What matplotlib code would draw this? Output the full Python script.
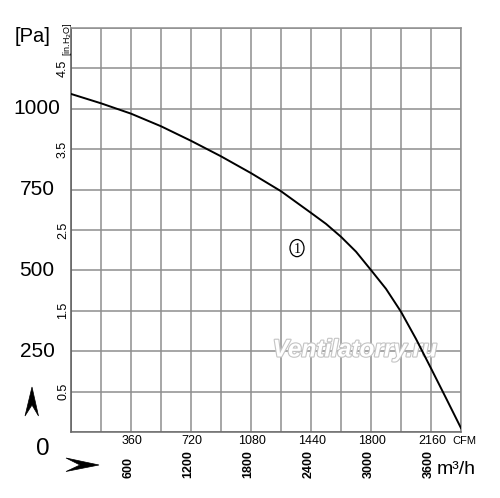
import matplotlib
matplotlib.use('Agg')
import matplotlib.pyplot as plt
import matplotlib.patheffects as pe
from matplotlib.patches import Polygon, Ellipse

# curve: airflow [CFM] vs static pressure [Pa]
cfm = [0, 180, 360, 540, 720, 900, 1080, 1260, 1440, 1530, 1620, 1710, 1800,
       1890, 1980, 2070, 2160, 2250, 2340]
pa = [1046, 1017, 985, 946, 901, 853, 801, 745, 678, 644, 604, 558, 501,
      443, 372, 288, 197, 105, 12]

cfm_labels = [360, 720, 1080, 1440, 1800, 2160]
m3h_labels = [600, 1200, 1800, 2400, 3000, 3600]
pa_labels = [250, 500, 750, 1000]
inch_labels = ['0.5', '1.5', '2.5', '3.5', '4.5']
inch_pos = [125, 375, 625, 875, 1125]

FONT = ['Liberation Sans', 'DejaVu Sans']
W, H = 500, 498


def fpx(x, y):
    # pixel position -> figure fraction
    return x / W, 1 - y / H


fig = plt.figure(figsize=(W / 100, H / 100), dpi=100)
ax = fig.add_axes([71 / W, 66 / H, 390 / W, 404 / H])

ax.set_xlim(0, 2340)
ax.set_ylim(0, 1250)
ax.set_xticks(range(0, 2341, 180))
ax.set_yticks(range(0, 1251, 125))
ax.tick_params(length=0, labelbottom=False, labelleft=False)
ax.grid(True, color='#8e8e8e', lw=1.1)
for s in ax.spines.values():
    s.set_color('#8e8e8e')
    s.set_linewidth(1.1)
ax.spines['left'].set_color('#5a5a5a')
ax.spines['bottom'].set_color('#6a6a6a')

ax.plot(cfm, pa, color='black', lw=1.4, zorder=3)

# curve number
ax.add_patch(Ellipse((1356, 569), 84, 53, fill=False, ec='black', lw=0.9, zorder=3))
ax.text(1356, 566, '1', ha='center', va='center', fontsize=10,
        family=['Liberation Serif', 'DejaVu Serif'], zorder=3)

# watermark
ax.text(0.728, 0.203, 'Ventilatorry.ru', transform=ax.transAxes, ha='center', va='center',
        fontsize=17.5, style='italic', weight='bold', family=FONT, color='white',
        zorder=2, path_effects=[pe.Stroke(linewidth=1.6, foreground='#c4c4c4'), pe.Normal()])

# y labels, Pa and in.H2O
ytr = ax.get_yaxis_transform()
for v in pa_labels:
    ax.text(-0.087, v, str(v), transform=ytr, ha='center', va='center',
            fontsize=15, family=FONT)
for lab, v in zip(inch_labels, inch_pos):
    ax.text(-0.0205, v, lab, transform=ytr, ha='center', va='center', rotation=90,
            fontsize=9, family=FONT)

x, y = fpx(33, 37)
fig.text(x, y, '[Pa]', ha='center', va='center', fontsize=14.5, family=FONT)
x, y = fpx(67, 39)
fig.text(x, y, '[in.H$_2$O]', ha='center', va='center', rotation=90, fontsize=6.5, family=FONT)
x, y = fpx(42.5, 449)
fig.text(x, y, '0', ha='center', va='center', fontsize=17.5, family=FONT)

# x labels, CFM and m3/h
xtr = ax.get_xaxis_transform()
for v in cfm_labels:
    ax.text(v + 8, -0.0223, str(v), transform=xtr, ha='center', va='center',
            fontsize=9, family=FONT)
for c, v in zip(cfm_labels, m3h_labels):
    ax.text(c - 15, -0.114, str(v), transform=xtr, ha='center', va='bottom', rotation=90,
            fontsize=9, weight='bold', family=FONT)

x, y = fpx(452, 441)
fig.text(x, y, 'CFM', ha='left', va='center', fontsize=8, family=FONT)
x, y = fpx(437, 474)
fig.text(x, y, 'm³/h', ha='left', va='baseline', fontsize=14, family=FONT)

# axis arrows
up = [fpx(32, 387), fpx(38.5, 416), fpx(32, 405), fpx(25, 416)]
fig.patches.append(Polygon(up, closed=True, fc='black', ec='black', lw=0.5,
                           transform=fig.transFigure))
right = [fpx(66, 458), fpx(99, 465), fpx(66, 471.5), fpx(80, 465)]
fig.patches.append(Polygon(right, closed=True, fc='black', ec='black', lw=0.5,
                           transform=fig.transFigure))

fig.savefig('out.png', dpi=100)
